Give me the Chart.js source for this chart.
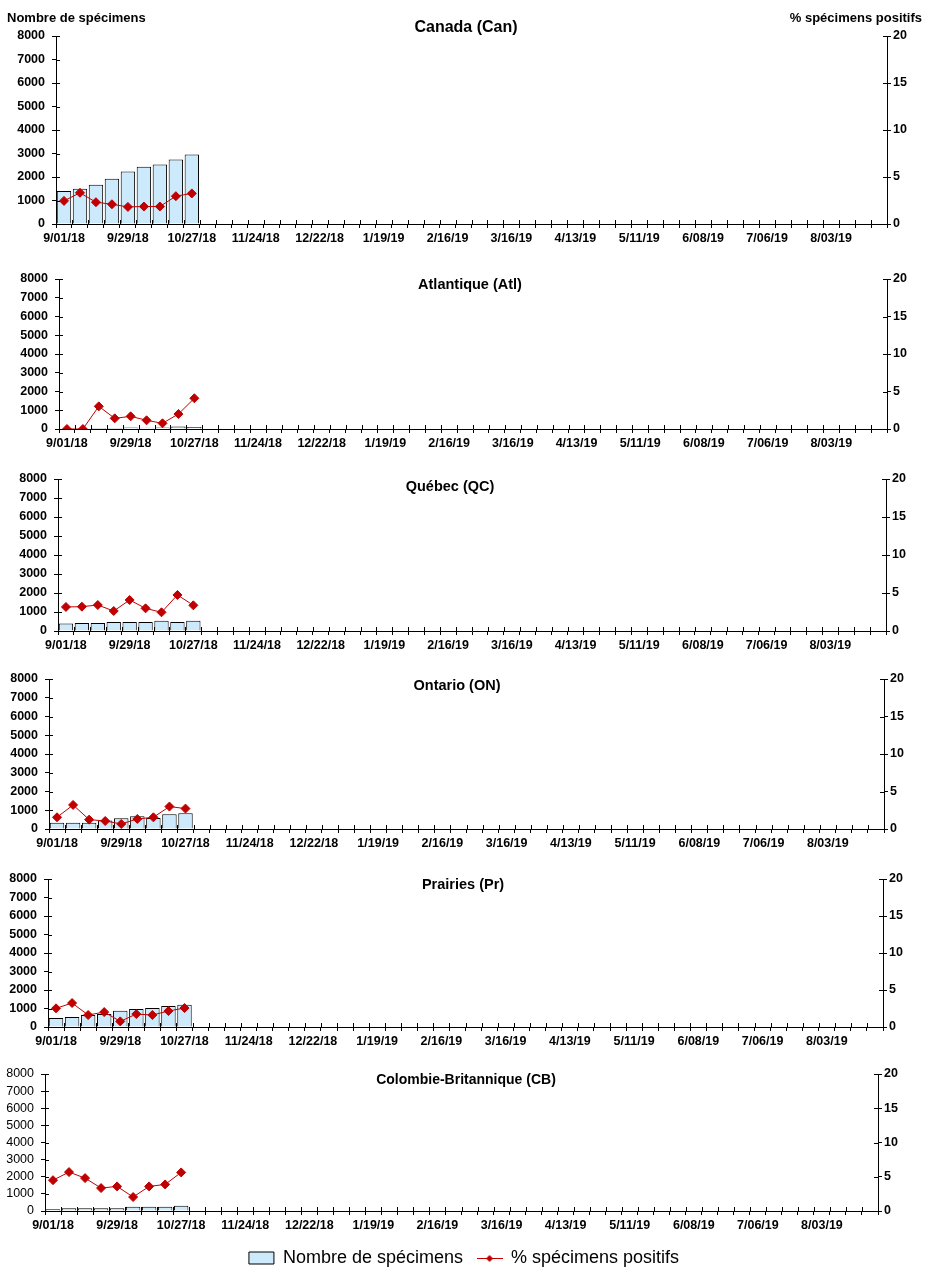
<!DOCTYPE html>
<html lang="fr">
<head>
<meta charset="utf-8">
<script src="https://cdn.jsdelivr.net/npm/chart.js@4.4.1/dist/chart.umd.min.js"></script>
<style>
  html, body { margin: 0; padding: 0; background: #fff; }
  #page { position: relative; width: 928px; height: 1281px; overflow: hidden; font-family: "Liberation Sans", Arial, sans-serif; }
  canvas { position: absolute; left: 0; }
  .t { position: absolute; transform: translate(-50%, -50%); font-weight: bold; white-space: nowrap; color: #000; z-index: 2; }
  .ax { position: absolute; font-weight: bold; font-size: 13px; white-space: nowrap; color: #000; z-index: 2; }
</style>
</head>
<body>
<div id="page">
  <div class="ax" style="left:7px; top:10px;">Nombre de spécimens</div>
  <div class="ax" style="right:6px; top:10px;">% spécimens positifs</div>
</div>
<script>
// ---- Categories (weeks) ----
const weeks = ["9/01/18","9/08/18","9/15/18","9/22/18","9/29/18","10/06/18","10/13/18","10/20/18","10/27/18",
  "11/03/18","11/10/18","11/17/18","11/24/18","12/01/18","12/08/18","12/15/18","12/22/18","12/29/18",
  "1/05/19","1/12/19","1/19/19","1/26/19","2/02/19","2/09/19","2/16/19","2/23/19","3/02/19","3/09/19",
  "3/16/19","3/23/19","3/30/19","4/06/19","4/13/19","4/20/19","4/27/19","5/04/19","5/11/19","5/18/19",
  "5/25/19","6/01/19","6/08/19","6/15/19","6/22/19","6/29/19","7/06/19","7/13/19","7/20/19","7/27/19",
  "8/03/19","8/10/19","8/17/19","8/24/19"];

// ---- Series: number of specimens (bars) and % positive (line) ----
const canBars = [1400, 1500, 1670, 1930, 2230, 2440, 2530, 2740, 2960];
const canPct  = [2.46, 3.32, 2.32, 2.10, 1.82, 1.86, 1.86, 2.96, 3.25];
const atlBars = [30, 30, 60, 60, 80, 70, 80, 140, 110];
const atlPct  = [0, 0, 3.02, 1.42, 1.69, 1.16, 0.76, 2.00, 4.10];
const qcBars  = [390, 420, 420, 470, 470, 470, 540, 470, 540];
const qcPct   = [3.16, 3.20, 3.42, 2.63, 4.08, 2.98, 2.46, 4.74, 3.38];
const onBars  = [340, 340, 340, 450, 570, 680, 590, 790, 840];
const onPct   = [1.56, 3.21, 1.25, 1.07, 0.67, 1.34, 1.56, 2.99, 2.72];
const prBars  = [490, 540, 650, 700, 880, 970, 1025, 1130, 1200];
const prPct   = [2.52, 3.24, 1.62, 2.02, 0.76, 1.75, 1.62, 2.16, 2.56];
const cbBars  = [100, 155, 155, 155, 155, 250, 250, 250, 310];
const cbPct   = [4.50, 5.68, 4.80, 3.35, 3.59, 2.04, 3.59, 3.88, 5.63];

// ---- Axis ticks ----
const leftTicks  = { min: 0, max: 8000, step: 1000 };
const rightTicks = { min: 0, max: 20, step: 5 };
const labelEvery = 4;

const barLabel  = "Nombre de spécimens";
const lineLabel = "% spécimens positifs";

// ---- Styles / layout (not data) ----
const BAR_FILL = "#cceafc";
const LINE_RED = "#c00000";
const FONT = "'Liberation Sans', Arial, sans-serif";
const XAXIS_H = 24;

const panels = [
  { title: "Canada (Can)", bars: canBars, pct: canPct, canvasTop: 0,   plotTop: 36,  plotBottom: 224,  left: 56, right: 887, tx: 466, ty: 27,   tsize: 16 },
  { title: "Atlantique (Atl)", bars: atlBars, pct: atlPct, canvasTop: 262, plotTop: 279, plotBottom: 429,  left: 59, right: 887, tx: 470, ty: 284,  tsize: 14.5 },
  { title: "Québec (QC)", bars: qcBars, pct: qcPct, canvasTop: 462, plotTop: 479, plotBottom: 631,  left: 58, right: 886, tx: 450, ty: 486,  tsize: 14.5 },
  { title: "Ontario (ON)", bars: onBars, pct: onPct, canvasTop: 662, plotTop: 679, plotBottom: 829,  left: 49, right: 884, tx: 457, ty: 685,  tsize: 14.5 },
  { title: "Prairies (Pr)", bars: prBars, pct: prPct, canvasTop: 862, plotTop: 879, plotBottom: 1027, left: 48, right: 883, tx: 463, ty: 884,  tsize: 14.5 },
  { title: "Colombie-Britannique (CB)", bars: cbBars, pct: cbPct, canvasTop: 1057, plotTop: 1074, plotBottom: 1211, left: 45, right: 878, tx: 466, ty: 1079, tsize: 14, legend: true, lightLeft: true }
];

Chart.defaults.color = "#000";
Chart.defaults.font.family = FONT;

// Legend symbol: line with diamond
const legendLineImg = document.createElement("canvas");
legendLineImg.width = 26; legendLineImg.height = 10;
(function () {
  const c = legendLineImg.getContext("2d");
  c.strokeStyle = LINE_RED; c.lineWidth = 1;
  c.beginPath(); c.moveTo(0, 5.5); c.lineTo(26, 5.5); c.stroke();
  c.fillStyle = LINE_RED;
  c.beginPath(); c.moveTo(13, 2); c.lineTo(16.5, 5.5); c.lineTo(13, 9); c.lineTo(9.5, 5.5); c.closePath(); c.fill();
})();

// Ticks that cross the axis lines (inner half)
const crossTicks = {
  id: "crossTicks",
  afterDraw(chart) {
    const ctx = chart.ctx, a = chart.chartArea, L = 4;
    ctx.save();
    ctx.strokeStyle = "#000"; ctx.lineWidth = 1;
    ctx.beginPath();
    const xs = chart.scales.x, n = xs.ticks.length, w = (xs.right - xs.left) / n;
    for (let i = 0; i <= n; i++) {
      const px = Math.round(xs.left + i * w) + 0.5;
      ctx.moveTo(px, a.bottom); ctx.lineTo(px, a.bottom - L);
    }
    const ys = chart.scales.y, y1 = chart.scales.y1;
    ys.ticks.forEach((t, i) => { const py = Math.round(ys.getPixelForTick(i)) + 0.5; ctx.moveTo(a.left, py); ctx.lineTo(a.left + L, py); });
    y1.ticks.forEach((t, i) => { const py = Math.round(y1.getPixelForTick(i)) + 0.5; ctx.moveTo(a.right, py); ctx.lineTo(a.right - L, py); });
    ctx.stroke();
    ctx.restore();
  }
};

const page = document.getElementById("page");
const plainNum = (v) => String(v);

panels.forEach((p) => {
  const cv = document.createElement("canvas");
  const h = p.legend ? (1281 - p.canvasTop) : (p.plotBottom - p.canvasTop + XAXIS_H);
  cv.width = 928; cv.height = h;
  cv.style.top = p.canvasTop + "px";
  cv.style.width = "928px"; cv.style.height = h + "px";
  page.appendChild(cv);

  const tdiv = document.createElement("div");
  tdiv.className = "t";
  tdiv.textContent = p.title;
  tdiv.style.left = p.tx + "px"; tdiv.style.top = p.ty + "px";
  tdiv.style.fontSize = p.tsize + "px";
  page.appendChild(tdiv);

  const tickFont = { family: FONT, size: 12.5, weight: "bold" };
  const gridOpts = { display: true, drawOnChartArea: false, drawTicks: true, tickLength: 4, color: "#000", lineWidth: 1 };
  const borderOpts = { display: true, color: "#000", width: 1 };

  new Chart(cv, {
    data: {
      labels: weeks,
      datasets: [
        { type: "bar", label: barLabel, data: p.bars, yAxisID: "y", order: 1,
          backgroundColor: BAR_FILL, borderColor: "#000", borderWidth: 1,
          categoryPercentage: 0.9, barPercentage: 1.0 },
        { type: "line", label: lineLabel, data: p.pct, yAxisID: "y1", order: 0,
          borderColor: LINE_RED, backgroundColor: LINE_RED, borderWidth: 1, tension: 0,
          pointStyle: "rectRot", pointRadius: 4.5, pointBackgroundColor: LINE_RED, pointBorderColor: LINE_RED, pointBorderWidth: 1 }
      ]
    },
    options: {
      responsive: false,
      animation: false,
      devicePixelRatio: 1,
      layout: { padding: { left: 0, right: 0, top: p.plotTop - p.canvasTop, bottom: p.legend ? 4 : 0 } },
      plugins: {
        title: { display: false },
        tooltip: { enabled: false },
        legend: p.legend ? {
          display: true, position: "bottom",
          labels: {
            usePointStyle: true, pointStyleWidth: 25, boxWidth: 25, boxHeight: 12, padding: 14,
            font: { family: FONT, size: 18, weight: "normal" }, color: "#000",
            sort: (a, b) => a.datasetIndex - b.datasetIndex,
            generateLabels(chart) {
              const items = Chart.defaults.plugins.legend.labels.generateLabels(chart);
              items.forEach((it) => {
                if (it.datasetIndex === 1) { it.pointStyle = legendLineImg; }
                else { it.pointStyle = "rect"; it.lineWidth = 1; it.strokeStyle = "#000"; it.fillStyle = BAR_FILL; }
              });
              return items;
            }
          }
        } : { display: false }
      },
      scales: {
        x: {
          type: "category", position: "bottom", offset: true,
          grid: Object.assign({}, gridOpts, { offset: true }),
          border: borderOpts,
          ticks: { autoSkip: false, maxRotation: 0, minRotation: 0, padding: 3, font: tickFont,
            callback: function (v, i) { return i % labelEvery === 0 ? weeks[i] : ""; } },
          afterFit: (s) => { s.height = XAXIS_H; }
        },
        y: {
          type: "linear", position: "left", min: leftTicks.min, max: leftTicks.max,
          grid: gridOpts, border: borderOpts,
          ticks: { stepSize: leftTicks.step, autoSkip: false, padding: 7, callback: plainNum,
            font: p.lightLeft ? { family: FONT, size: 12.5, weight: "normal" } : tickFont },
          afterFit: (s) => { s.width = p.left; }
        },
        y1: {
          type: "linear", position: "right", min: rightTicks.min, max: rightTicks.max,
          grid: gridOpts, border: borderOpts,
          ticks: { stepSize: rightTicks.step, autoSkip: false, padding: 2, callback: plainNum, font: tickFont },
          afterFit: (s) => { s.width = 928 - p.right; }
        }
      }
    },
    plugins: [crossTicks]
  });
});
</script>
</body>
</html>
